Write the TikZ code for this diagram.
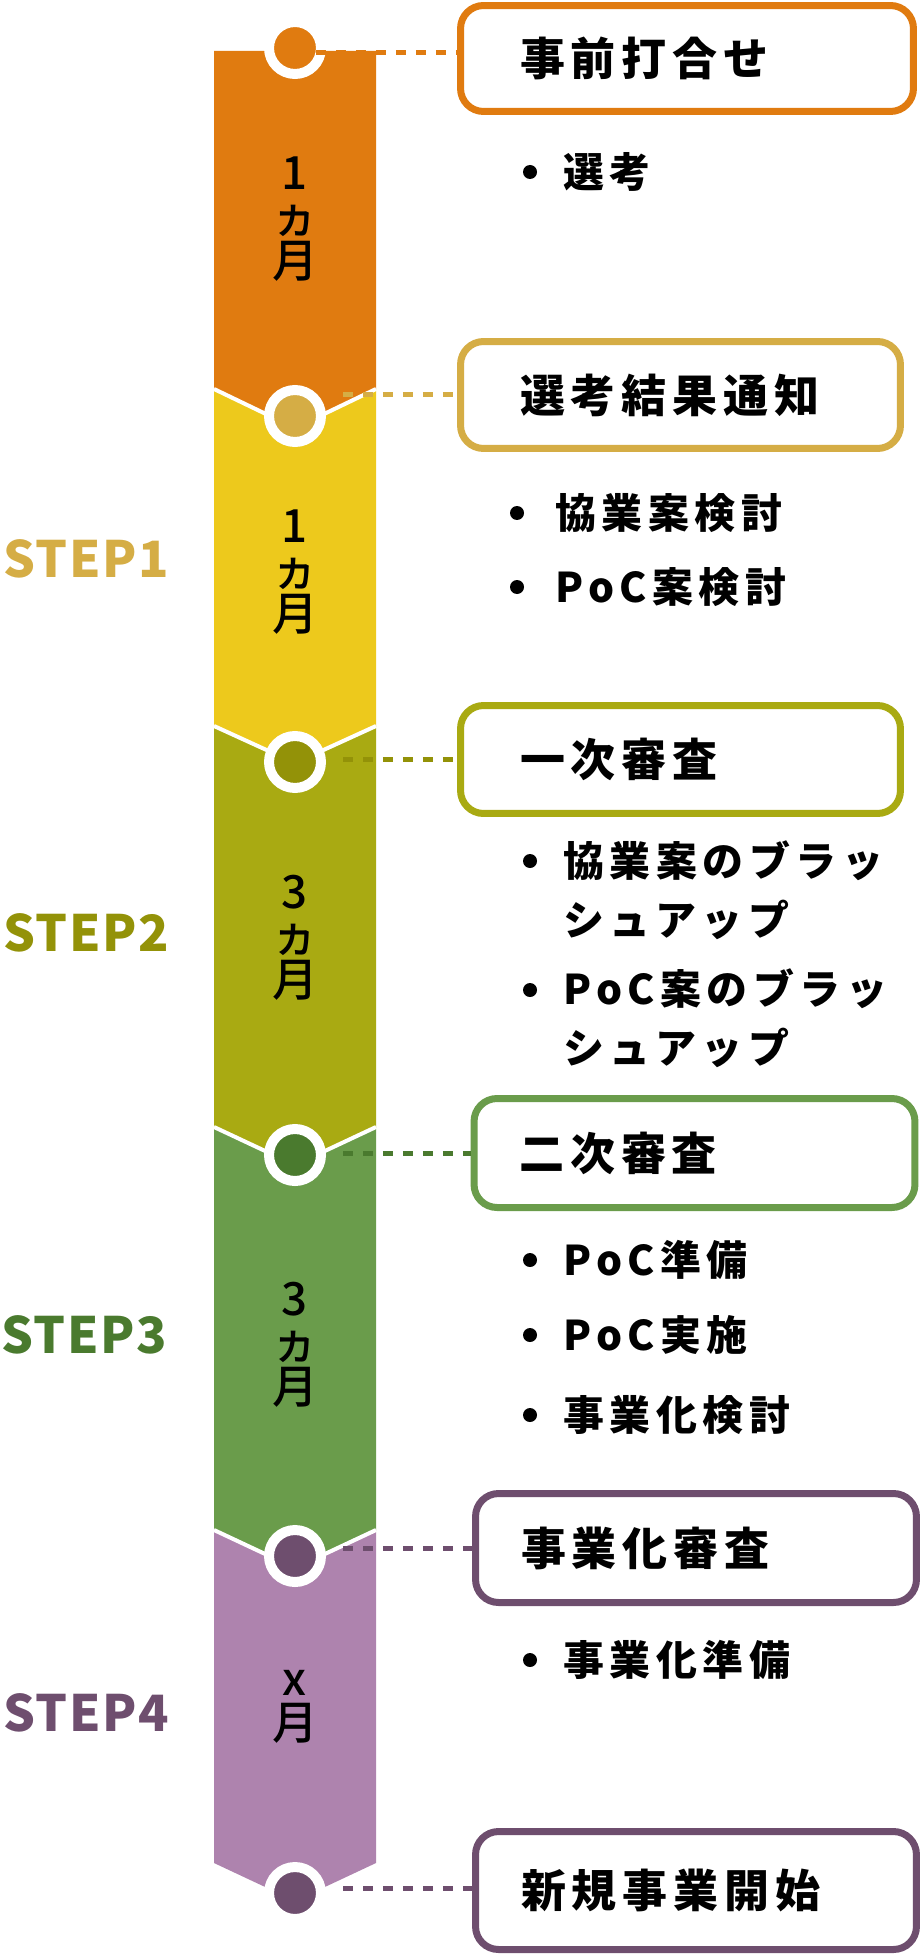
\documentclass[tikz,border=0pt]{standalone}
\usepackage{fontspec}
\newfontfamily\jpfont{Noto Sans CJK JP}[UprightFont=* Medium]
\newfontfamily\jptitle{Noto Sans CJK JP}[LetterSpace=13]
\newfontfamily\jpitem{Noto Sans CJK JP}[LetterSpace=13.5]
\newfontfamily\jpstep{Noto Sans CJK JP}[LetterSpace=3]

\definecolor{segOrange}{HTML}{E07B10}
\definecolor{segYellow}{HTML}{EDC91C}
\definecolor{segOlive}{HTML}{A9AA12}
\definecolor{segGreen}{HTML}{6A9C4B}
\definecolor{segPurple}{HTML}{AE83AE}
\definecolor{dotGold}{HTML}{D5AD45}
\definecolor{dotOlive}{HTML}{939208}
\definecolor{dotGreen}{HTML}{4A7A2E}
\definecolor{dotPurple}{HTML}{6E4E6E}

\newcommand{\titlefont}{\jptitle\bfseries\fontsize{25.6}{30}\selectfont}
\newcommand{\itemfont}{\jpitem\bfseries\fontsize{23.3}{33.6}\selectfont}
\newcommand{\monthfont}{\jpfont\fontsize{26}{25}\selectfont}
\newcommand{\stepfont}{\jpstep\bfseries\fontsize{28.5}{30}\selectfont}

\tikzset{
  sep/.style={white, line width=0.08cm},
  ring/.style={circle, fill=#1, draw=white, line width=0.2cm, minimum size=1.04cm, inner sep=0pt},
  link/.style={#1, line width=0.1cm, dash pattern=on 0.2cm off 0.2cm},
  stagebox/.style={draw=#1, line width=0.14cm, rounded corners=0.46cm, fill=white,
    align=left, font=\titlefont, inner ysep=0pt},
  itemtext/.style={anchor=west, align=left, font=\itemfont, inner sep=0pt},
  month/.style={align=center, font=\monthfont, inner sep=0pt},
  steplabel/.style={anchor=west, font=\stepfont, text=#1, inner sep=0pt},
}

\begin{document}
\begin{tikzpicture}[x=0.02cm, y=-0.02cm]
\useasboundingbox (0,0) rectangle (921,1956);

% timeline column
\fill[segOrange] (214,51) -- (376,51) -- (376,389) -- (295,428) -- (214,389) -- cycle;
\foreach \ea/\ta/\eb/\tb/\col in {389/428/726/763/segYellow, 726/763/1127/1165/segOlive,
    1127/1165/1530/1568/segGreen, 1530/1568/1863/1901/segPurple} {
  \fill[\col] (214,\ea) -- (295,\ta) -- (376,\ea) -- (376,\eb) -- (295,\tb) -- (214,\eb) -- cycle;
}
\foreach \e/\t in {389/428, 726/763, 1127/1165, 1530/1568} {
  \draw[sep] (214,\e) -- (295,\t) -- (376,\e);
}

% durations
\node[month] (m1) at (295,219) {1\\ヵ\\月};
\node[month] (m2) at (295,572) {1\\ヵ\\月};
\node[month] (m3) at (295,938) {3\\ヵ\\月};
\node[month] (m4) at (295,1345) {3\\ヵ\\月};
\node[month] (m5) at (295,1707) {x\\月};

% step names
\node[steplabel=dotGold] (st1) at (3,559) {STEP1};
\node[steplabel=dotOlive] (st2) at (3,933) {STEP2};
\node[steplabel=dotGreen] (st3) at (1,1335) {STEP3};
\node[steplabel=dotPurple] (st4) at (3,1713) {STEP4};

% milestone boxes
\node[stagebox=segOrange, text width=6.68cm, inner xsep=1.19cm, minimum height=2.12cm] (b1) at (687,58.5) {事前打合せ};
\node[stagebox=dotGold, text width=6.42cm, inner xsep=1.19cm, minimum height=2.14cm] (b2) at (680.5,395) {選考結果通知};
\node[stagebox=segOlive, text width=6.42cm, inner xsep=1.19cm, minimum height=2.16cm] (b3) at (680.5,759.5) {一次審査};
\node[stagebox=segGreen, text width=7.0cm, inner xsep=0.91cm, minimum height=2.18cm] (b4) at (694.5,1153) {二次審査};
\node[stagebox=dotPurple, text width=7.0cm, inner xsep=0.91cm, minimum height=2.18cm] (b5) at (696,1548) {事業化審査};
\node[stagebox=dotPurple, text width=7.0cm, inner xsep=0.91cm, minimum height=2.36cm] (b6) at (696,1890.5) {新規事業開始};

% dotted leaders
\coordinate (s1) at (316,53);
\coordinate (s2) at (343,395);
\coordinate (s3) at (343,759);
\coordinate (s4) at (343,1153);
\coordinate (s5) at (343,1548);
\coordinate (s6) at (343,1888);
\draw[link=segOrange] (s1) -- (s1 -| b1.west);
\draw[link=dotGold] (s2) -- (s2 -| b2.west);
\draw[link=dotOlive] (s3) -- (s3 -| b3.west);
\draw[link=dotGreen] (s4) -- (s4 -| b4.west);
\draw[link=dotPurple] (s5) -- (s5 -| b5.west);
\draw[link=dotPurple] (s6) -- (s6 -| b6.west);

% milestone dots
\node[ring=segOrange] (d1) at (295,48) {};
\node[ring=dotGold] (d2) at (295,416) {};
\node[ring=dotOlive] (d3) at (295,762) {};
\node[ring=dotGreen] (d4) at (295,1155) {};
\node[ring=dotPurple] (d5) at (295,1556) {};
\node[ring=dotPurple] (d6) at (295,1893) {};
\draw[link=segOrange] (s1) -- ++(12,0);

% task lists
\foreach \y in {172, 861, 990, 1260, 1335, 1415, 1660} {
  \fill (530,\y) circle (0.14cm);
}
\foreach \y in {513, 587} {
  \fill (517,\y) circle (0.14cm);
}
\node[itemtext] (t1) at (563,172) {選考};
\node[itemtext] (t2) at (555,513) {協業案検討};
\node[itemtext] (t3) at (555,587) {PoC案検討};
\node[itemtext] (t4) at (563,890.5) {協業案のブラッ\\シュアップ};
\node[itemtext] (t5) at (563,1018) {PoC案のブラッ\\シュアップ};
\node[itemtext] (t6) at (563,1260) {PoC準備};
\node[itemtext] (t7) at (563,1335) {PoC実施};
\node[itemtext] (t8) at (563,1415) {事業化検討};
\node[itemtext] (t9) at (563,1660) {事業化準備};
\end{tikzpicture}
\end{document}
